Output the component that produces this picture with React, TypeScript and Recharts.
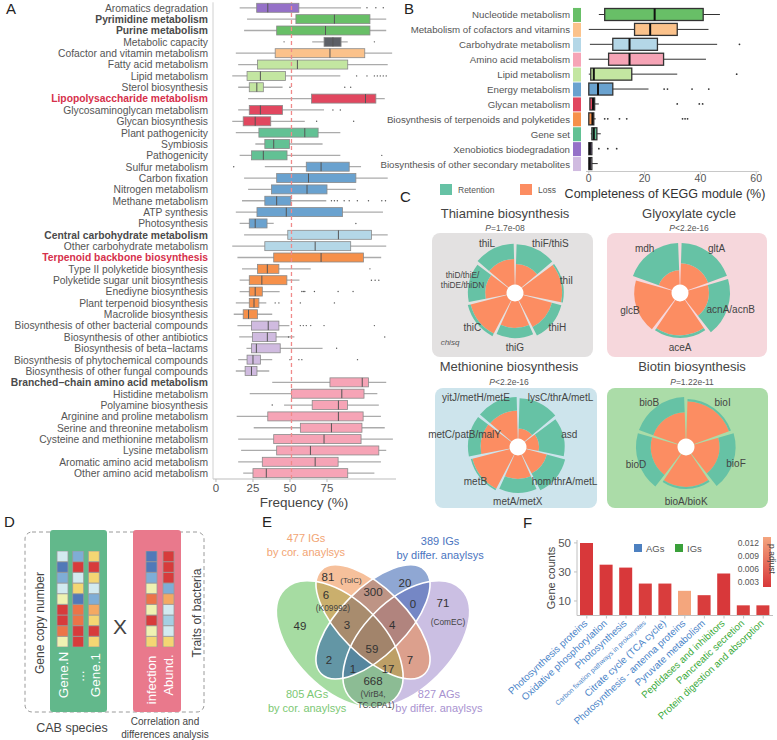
import React from 'react';
import {
  ComposedChart, BarChart, Bar, XAxis, YAxis, ReferenceLine, Cell,
  RadialBarChart, RadialBar, PolarAngleAxis, PolarRadiusAxis,
  PieChart, Pie, ScatterChart, Scatter, LabelList,
} from 'recharts';

const FONT = '"Liberation Sans", Arial, Helvetica, sans-serif';
const TXT = '#4d4d4d';

// ================= Panel A data =================
const aCategories = [
  'Aromatics degradation', 'Pyrimidine metabolism', 'Purine metabolism', 'Metabolic capacity',
  'Cofactor and vitamin metabolism', 'Fatty acid metabolism', 'Lipid metabolism', 'Sterol biosynthesis',
  'Lipopolysaccharide metabolism', 'Glycosaminoglycan metabolism', 'Glycan biosynthesis',
  'Plant pathogenicity', 'Symbiosis', 'Pathogenicity', 'Sulfur metabolism', 'Carbon fixation',
  'Nitrogen metabolism', 'Methane metabolism', 'ATP synthesis', 'Photosynthesis',
  'Central carbohydrate metabolism', 'Other carbohydrate metabolism', 'Terpenoid backbone biosynthesis',
  'Type II polyketide biosynthesis', 'Polyketide sugar unit biosynthesis', 'Enediyne biosynthesis',
  'Plant terpenoid biosynthesis', 'Macrolide biosynthesis', 'Biosynthesis of other bacterial compounds',
  'Biosynthesis of other antibiotics', 'Biosynthesis of beta\u2212lactams',
  'Biosynthesis of phytochemical compounds', 'Biosynthesis of other fungal compounds',
  'Branched\u2212chain amino acid metabolism', 'Histidine metabolism', 'Polyamine biosynthesis',
  'Arginine and proline metabolism', 'Serine and threonine metabolism',
  'Cysteine and methionine metabolism', 'Lysine metabolism', 'Aromatic amino acid metabolism',
  'Other amino acid metabolism',
];
const aGroup = [
  'Xenobiotics', 'Nucleotide', 'Nucleotide', 'Capacity', 'Cofactors', 'Lipid', 'Lipid', 'Lipid',
  'Glycan', 'Glycan', 'Glycan', 'GeneSet', 'GeneSet', 'GeneSet',
  'Energy', 'Energy', 'Energy', 'Energy', 'Energy', 'Energy', 'Carbohydrate', 'Carbohydrate',
  'Terpenoid', 'Terpenoid', 'Terpenoid', 'Terpenoid', 'Terpenoid', 'Terpenoid',
  'Secondary', 'Secondary', 'Secondary', 'Secondary', 'Secondary',
  'AminoAcid', 'AminoAcid', 'AminoAcid', 'AminoAcid', 'AminoAcid', 'AminoAcid', 'AminoAcid', 'AminoAcid', 'AminoAcid',
];
const aBold = ['Pyrimidine metabolism', 'Purine metabolism', 'Central carbohydrate metabolism', 'Branched\u2212chain amino acid metabolism'];
const aRed = ['Lipopolysaccharide metabolism', 'Terpenoid backbone biosynthesis'];
const aLow = [16, 21, 19, 65, 13.4, 15, 11, 15, 21.7, 15, 11, 13.4, 26.6, 16, 33, 19, 21.7, 17.6, 13.4, 16, 19, 11, 14.5, 17.6, 16, 16, 13.4, 12, 14.5, 15.7, 20.6, 15, 13.4, 38, 22.8, 46, 14, 25.5, 15, 17, 15, 18.4];
const aQ1 = [27.5, 54, 41, 73, 40, 28, 21, 22.5, 64.5, 22.5, 18.4, 29, 33, 24, 61, 41, 37.5, 33, 27.7, 22.5, 48.5, 33, 39, 28, 22.5, 22.5, 22.5, 18.4, 24, 24.6, 24, 21, 19.7, 77, 51, 65, 35, 57, 39, 41, 31.3, 25];
const aMedian = [35, 80, 74, 79, 77, 55, 30, 27.6, 101, 30, 26.5, 60, 39, 32, 71, 62.5, 61.5, 41, 47.5, 26.5, 82.7, 67, 71, 34.7, 31, 26.5, 25.7, 22, 35.3, 34.7, 27.3, 25, 24, 98.8, 85, 82.7, 82.7, 78, 73, 63.8, 67, 34];
const aQ3 = [56, 104, 104, 84.5, 100.5, 89, 47, 32, 108, 45, 37, 69, 49.6, 48, 90, 94.5, 75, 50.6, 85.5, 34.5, 105, 91, 99.6, 42.5, 47.9, 31.3, 29, 28, 42.5, 40.6, 43.4, 30, 27.7, 103, 100, 88.9, 99.4, 98.6, 98, 110, 82.5, 89];
const aHigh = [98, 115, 115, 89, 119, 116, 84, 45, 114, 73, 60, 84, 72, 84, 98, 116, 94.5, 74.5, 112.8, 39, 116, 115, 111.6, 64, 56.4, 43, 34, 38, 49.6, 53, 72, 38, 36, 115, 109, 110, 111.4, 114, 119.5, 115, 111.4, 107];
const aOutliers = [
  [102, 108, 113], [], [], [46, 107], [], [], [95, 102, 107, 109, 111, 113, 115], [50, 87, 91],
  [], [79, 84], [68, 93], [], [], [112], [12], [], [], [78, 80, 82, 86.6, 90, 95.5, 103, 112, 114.5],
  [], [94.5], [], [], [], [104], [105, 107.5, 110], [58, 59, 60, 66.5, 82.5, 92.6], [40, 42.5, 51, 57, 80],
  [], [57, 59, 61, 64, 73, 107], [49, 114], [81.5], [50, 56, 58, 95.6], [], [], [], [38], [], [], [], [], [], [],
];
const aThreshold = 51;
const aTicks = [0, 25, 50, 75];

// ================= Panel B data =================
const bCategories = [
  'Nucleotide metabolism', 'Metabolism of cofactors and vitamins', 'Carbohydrate metabolism',
  'Amino acid metabolism', 'Lipid metabolism', 'Energy metabolism', 'Glycan metabolism',
  'Biosynthesis of terpenoids and polyketides', 'Gene set', 'Xenobiotics biodegradation',
  'Biosynthesis of other secondary metabolites',
];
const bGroup = ['Nucleotide', 'Cofactors', 'Carbohydrate', 'AminoAcid', 'Lipid', 'Energy', 'Glycan', 'Terpenoid', 'GeneSet', 'Xenobiotics', 'Secondary'];
const bLow = [3.6, 0, 0.4, 0, 0, 0, 0.4, 0, 0.7, 0, 0];
const bQ1 = [5.7, 16.4, 8.6, 7.1, 0.7, 0, 0.4, 0, 1.1, 0, 0];
const bMedian = [23.6, 22, 14.6, 14.6, 1.8, 3.3, 1.5, 1.3, 1.8, 0.4, 0.4];
const bQ3 = [41, 31.7, 24.6, 26.8, 15.4, 8.6, 2.1, 1.8, 2.9, 1.1, 1.1];
const bHigh = [47, 42.9, 46, 42, 31.7, 21.4, 3.6, 2.5, 4.3, 1.2, 3.2];
const bOutliers = [[], [], [54], [], [53], [27, 28.2, 37, 43], [31.7, 39.6, 40.8], [5.7, 6.8, 11, 13.6, 33.6, 34.5, 35.4], [], [3.6, 6.8, 10], []];
const bTicks = [0, 20, 40, 60];

// ================= Panel C data =================
const cThiGenes = ['thiF/thiS', 'thiI', 'thiH', 'thiG', 'thiC', 'thiD/thiE/thiDE/thiDN', 'thiL'];
const cThiLoss = [50, 93, 72, 64, 90, 52, 62];
const cThiRet = [47, 4, 23, 24, 7, 41, 36];
const cGlyGenes = ['gltA', 'acnA/acnB', 'aceA', 'glcB', 'mdh'];
const cGlyLoss = [52, 50, 82, 90, 35];
const cGlyRet = [48, 50, 6, 0, 65];
const cMetGenes = ['lysC/thrA/metL', 'asd', 'hom/thrA/metL', 'metA/metX', 'metB', 'metC/patB/malY', 'yitJ/metH/metE'];
const cMetLoss = [25, 31, 52, 57, 93, 70, 68];
const cMetRet = [72, 61, 45, 33, 4, 30, 32];
const cBioGenes = ['bioI', 'bioF', 'bioA/bioK', 'bioD', 'bioB'];
const cBioLoss = [90, 61, 76, 65, 64];
const cBioRet = [5, 38, 5, 35, 36];
const cTitles = ['Thiamine biosynthesis', 'Glyoxylate cycle', 'Methionine biosynthesis', 'Biotin biosynthesis'];
const cPvalues = ['=1.7e-08', '<2.2e-16', '<2.2e-16', '=1.22e-11'];

// ================= Panel D data =================
const dGeneCols = ['Gene.N', '...', 'Gene.1'];
const dGeneLevels = [[5, 8, 7, 5, 4, 0, 0, 1, 4], [7, 0, 5, 3, 8, 1, 1, 0, 0], [3, 0, 3, 5, 7, 2, 3, 0, 3]];
const dTraitCols = ['infection', 'Abund.'];
const dTraitLevels = [[8, 8, 7, 4, 1, 4, 0, 4, 3], [0, 0, 0, 7, 2, 5, 6, 5, 3]];

// ================= Panel E data =================
const vennSets = ['805 AGs', '477 IGs', '389 IGs', '827 AGs'];
const vennSetSub = ['by cor. anaylsys', 'by cor. anaylsys', 'by differ. anaylsys', 'by differ. anaylsys'];
const vennCounts = [49, 81, 20, 71, 6, 300, 0, 2, 3, 4, 7, 59, 1, 17, 668];
const vennNotes = ['', '(TolC)', '', '(ComEC)', '(K09992)', '', '', '', '', '', '', '', '', '', '(VirB4,|TC.CPA1)'];

// ================= Panel F data =================
const fPathways = [
  'Photosynthesis proteins', 'Oxidative phosphorylation', 'Photosynthesis',
  'Carbon fixation pathways in prokaryotes', 'Citrate cycle (TCA cycle)',
  'Photosynthesis - antenna proteins', 'Pyruvate metabolism', 'Peptidases and inhibitors',
  'Pancreatic secretion', 'Protein digestion and absorption',
];
const fCounts = [50, 35, 33, 22, 22, 17, 14, 29, 7, 7];
const fPAdjust = [0.001, 0.001, 0.001, 0.0015, 0.0015, 0.012, 0.0015, 0.001, 0.0015, 0.0015];
const fSource = ['AGs', 'AGs', 'AGs', 'AGs', 'AGs', 'AGs', 'AGs', 'IGs', 'IGs', 'IGs'];
const fTicks = [10, 30, 50];
const fLegendTicks = ['0.012', '0.009', '0.006', '0.003'];

// ================= styles =================
const GROUP_COLORS: any = {
  Nucleotide: '#68bf67', Cofactors: '#fbc28b', Carbohydrate: '#b4d7e7', AminoAcid: '#f6a4b6',
  Lipid: '#c3e6a1', Energy: '#6aa2cf', Glycan: '#e1475f', Terpenoid: '#f6904a', GeneSet: '#62c194',
  Xenobiotics: '#9571c8', Secondary: '#d0bbe0', Capacity: '#5d6067',
};
const HEAT = ['#d73b3b', '#ec7448', '#f4a962', '#f4d673', '#eff2b2', '#d3eaf0', '#a5cfe3', '#7fadd6', '#5179b8'];
const LOSS = '#fc8d62';
const RET = '#66c2a5';

// ================= helpers =================
function T(props: any) {
  const { x, y, s = 11, c = TXT, a = 'middle', w = 400, it = false, rot = 0, children } = props;
  return (
    <text x={x} y={y} fontSize={s} fill={c} textAnchor={a} fontWeight={w} fontStyle={it ? 'italic' : 'normal'}
      dominantBaseline="central" fontFamily={FONT} transform={rot ? `rotate(${rot} ${x} ${y})` : undefined}>
      {children}
    </text>
  );
}

const aData = aCategories.map((name, i) => ({
  name, range: [aLow[i], aHigh[i]], lo: aLow[i], hi: aHigh[i], q1: aQ1[i], med: aMedian[i], q3: aQ3[i],
  out: aOutliers[i], color: GROUP_COLORS[aGroup[i]],
}));
const bData = bCategories.map((name, i) => ({
  name, range: [bLow[i], bHigh[i]], lo: bLow[i], hi: bHigh[i], q1: bQ1[i], med: bMedian[i], q3: bQ3[i],
  out: bOutliers[i], color: GROUP_COLORS[bGroup[i]],
}));

function makeBox(st: any) {
  return (props: any) => {
    const { x, y, width, height, payload } = props;
    if (!payload || !isFinite(x) || !isFinite(width)) return null;
    const { lo, hi, q1, med, q3, out, color } = payload;
    const px = (v: number) => x + ((v - lo) / (hi - lo)) * width;
    const cy = y + height / 2;
    return (
      <g>
        <line x1={x} x2={x + width} y1={cy} y2={cy} stroke={st.whisk} strokeWidth={st.whiskW} />
        <rect x={px(q1)} y={y} width={Math.max(px(q3) - px(q1), 0.5)} height={height} fill={color} stroke={st.box} strokeWidth={st.boxW} />
        <line x1={px(med)} x2={px(med)} y1={y} y2={y + height} stroke={st.med} strokeWidth={st.medW} />
        {out.map((o: number, i: number) => (
          <circle key={i} cx={px(o)} cy={cy} r={st.outR} fill={st.out} />
        ))}
      </g>
    );
  };
}
const ABox = makeBox({ whisk: '#ababab', whiskW: 1.3, box: '#8a8a8a', boxW: 0.8, med: '#555', medW: 1, outR: 0.7, out: '#555' });
const BBox = makeBox({ whisk: '#333', whiskW: 1, box: '#333', boxW: 1.3, med: '#111', medW: 2, outR: 0.9, out: '#333' });

function ATick(props: any) {
  const { x, y, payload } = props;
  const name = payload.value;
  const bold = aBold.includes(name);
  const red = aRed.includes(name);
  const strong = bold || red;
  return (
    <text x={x} y={y} dy={3.7} textAnchor="end" fontSize={10.3} fontFamily={FONT}
      fontWeight={strong ? 700 : 400} fill={red ? '#d6304b' : bold ? '#4a4a4a' : '#555'}>
      {name}
    </text>
  );
}

function BTick(props: any) {
  const { x, y, payload } = props;
  const i = bCategories.indexOf(payload.value);
  return (
    <g>
      <rect x={x + 2} y={y - 7} width={8} height={14} fill={GROUP_COLORS[bGroup[i]]} />
      <text x={x - 1} y={y} dy={3.5} textAnchor="end" fontSize={9.7} fontFamily={FONT} fill="#555">{payload.value}</text>
    </g>
  );
}

const R_LAB = 52;
function GeneLabel(props: any) {
  const vb = props.viewBox || {};
  if (vb.startAngle == null || vb.cx == null) return null;
  const { cx, cy, startAngle, endAngle } = vb;
  const mid = (startAngle + endAngle) / 2;
  const rad = (-mid * Math.PI) / 180;
  const px = cx + R_LAB * Math.cos(rad);
  const py = cy + R_LAB * Math.sin(rad);
  const theta = ((90 - mid) * Math.PI) / 180;
  const name = String(props.value);
  const lines = name.includes('thiDE') ? ['thiD/thiE/', 'thiDE/thiDN'] : [name];
  const fs = lines.length > 1 ? 8.3 : 10;
  const w = Math.max(...lines.map((l) => l.length)) * fs * 0.5;
  const lh = fs * 1.2;
  const h = lines.length * lh;
  const c = Math.cos(theta);
  const k = c > 0 ? 0.8 : 0.3;
  const xc = px + k * Math.sin(theta) * w * c * c;
  const yc = py - 0.25 * c * h;
  return (
    <g>
      {lines.map((l, j) => (
        <text key={j} x={xc} y={yc + (j - (lines.length - 1) / 2) * lh} textAnchor="middle" dominantBaseline="central"
          fontSize={fs} fontFamily={FONT} fill="#444">{l}</text>
      ))}
    </g>
  );
}

function Rose(props: any) {
  const { genes, loss, ret, cx, cy } = props;
  const data = genes.map((g: string, i: number) => ({ gene: g, loss: loss[i], ret: ret[i] }));
  const W = 240, H = 200;
  const start = 90 - 360 / genes.length;
  return (
    <>
      <div style={{ position: 'absolute', left: cx - W / 2, top: cy - H / 2 }}>
        <RadialBarChart width={W} height={H} data={data} layout="centric" cx={W / 2} cy={H / 2}
          innerRadius={8} outerRadius={50} startAngle={start} endAngle={start - 360} barCategoryGap="3%"
          margin={{ top: 0, right: 0, bottom: 0, left: 0 }}>
          <PolarAngleAxis type="category" dataKey="gene" tick={false} axisLine={false} tickLine={false} />
          <PolarRadiusAxis type="number" domain={[0, 100]} tick={false} axisLine={false} tickLine={false} />
          <RadialBar dataKey="loss" stackId="s" fill={LOSS} stroke="none" isAnimationActive={false} />
          <RadialBar dataKey="ret" stackId="s" fill={RET} stroke="none" isAnimationActive={false}>
            <LabelList dataKey="gene" content={GeneLabel} />
          </RadialBar>
        </RadialBarChart>
      </div>
      <div style={{ position: 'absolute', left: cx - 15, top: cy - 15 }}>
        <PieChart width={30} height={30} margin={{ top: 0, right: 0, bottom: 0, left: 0 }}>
          <Pie data={[{ v: 1 }]} dataKey="v" cx={15} cy={15} innerRadius={0} outerRadius={8.5} fill="#fff" stroke="none" isAnimationActive={false} />
        </PieChart>
      </div>
    </>
  );
}

function Heat(props: any) {
  const { cols, levels, left, width } = props;
  const rows = levels[0].length;
  const data = cols.map((c: string) => {
    const o: any = { col: c };
    levels[0].forEach((_: number, r: number) => { o['r' + r] = 1; });
    return o;
  });
  const order = levels[0].map((_: number, k: number) => rows - 1 - k);
  return (
    <div style={{ position: 'absolute', left, top: 551 }}>
      <BarChart width={width} height={96} data={data} margin={{ top: 0, right: 0, bottom: 0, left: 0 }} barCategoryGap={0}>
        <XAxis dataKey="col" hide />
        <YAxis type="number" domain={[0, rows]} hide />
        {order.map((r: number) => (
          <Bar key={r} dataKey={'r' + r} stackId="h" barSize={11} stroke="#9b9b9b" strokeWidth={0.8} isAnimationActive={false}>
            {cols.map((c: string, ci: number) => <Cell key={ci} fill={HEAT[levels[ci][r]]} />)}
          </Bar>
        ))}
      </BarChart>
    </div>
  );
}

// Venn layout (VennDiagram-style unit coordinates)
const VENN_K = 222; // px per unit (chart width / x-domain span)
const vennEllipses = [
  { x: 0.65, y: 0.47, a: 0.35, b: 0.2, rot: -45, fill: '#977fc7' },
  { x: 0.35, y: 0.47, a: 0.35, b: 0.2, rot: 45, fill: '#4db945' },
  { x: 0.5, y: 0.57, a: 0.33, b: 0.15, rot: -45, fill: '#1f50a8' },
  { x: 0.5, y: 0.57, a: 0.33, b: 0.15, rot: 45, fill: '#ed8137' },
];
const vennRegionPos = [
  [0.171, 0.551], [0.297, 0.772], [0.644, 0.745], [0.815, 0.655], [0.288, 0.691], [0.5, 0.704],
  [0.68, 0.65], [0.302, 0.398], [0.383, 0.556], [0.586, 0.556], [0.667, 0.398], [0.495, 0.448],
  [0.41, 0.358], [0.568, 0.358], [0.5, 0.303],
];
const vennSetPos = [[0.203, 0.213], [0.198, 0.916], [0.802, 0.903], [0.797, 0.213]];
const vennSetColors = ['#7cc874', '#f2a574', '#4a74c0', '#a892d0'];

function EllipseShape(props: any) {
  const { cx, cy, payload, outline } = props;
  return (
    <ellipse cx={cx} cy={cy} rx={payload.a * VENN_K} ry={payload.b * VENN_K}
      transform={`rotate(${payload.rot} ${cx} ${cy})`}
      fill={outline ? 'none' : payload.fill} fillOpacity={0.5}
      stroke={outline ? '#fff' : 'none'} strokeWidth={1.6} />
  );
}
function RegionLabel(props: any) {
  const { cx, cy, payload } = props;
  const note = payload.note;
  const noteLines = note ? note.split('|') : [];
  const inline = note === '(TolC)';
  const below = note && !inline;
  const dx = note === '(K09992)' ? 7 : note === '(ComEC)' ? 5 : 0;
  return (
    <g fontFamily={FONT}>
      <text x={cx} y={cy} textAnchor="middle" dominantBaseline="central" fontSize={11.5} fill="#333">{payload.count}</text>
      {inline && <text x={cx + 23} y={cy + 3} textAnchor="middle" dominantBaseline="central" fontSize={8} fill="#444">{note}</text>}
      {below && noteLines.map((l: string, k: number) => (
        <text key={k} x={cx + dx + (k === 1 ? 3 : 0)} y={cy + 13 + k * 11 + (payload.count === 71 ? 6 : 0)} textAnchor="middle"
          dominantBaseline="central" fontSize={8.3} fill="#444">{l}</text>
      ))}
    </g>
  );
}
function SetLabel(props: any) {
  const { cx, cy, payload } = props;
  return (
    <g fontFamily={FONT}>
      <text x={cx} y={cy - 7} textAnchor="middle" dominantBaseline="central" fontSize={11} fill={payload.color}>{payload.name}</text>
      <text x={cx} y={cy + 7} textAnchor="middle" dominantBaseline="central" fontSize={11} fill={payload.color}>{payload.sub}</text>
    </g>
  );
}

const ellipseData = vennEllipses.map((e) => ({ ...e }));
const regionData = vennCounts.map((c, i) => ({ x: vennRegionPos[i][0], y: vennRegionPos[i][1], count: c, note: vennNotes[i] }));
const setData = vennSets.map((s, i) => ({ x: vennSetPos[i][0], y: vennSetPos[i][1], name: s, sub: vennSetSub[i], color: vennSetColors[i] }));

// F
function lerpColor(c1: number[], c2: number[], t: number) {
  const c = c1.map((v, i) => Math.round(v + (c2[i] - v) * t));
  return `rgb(${c[0]},${c[1]},${c[2]})`;
}
const pColor = (p: number) => lerpColor([216, 56, 58], [244, 166, 125], Math.min(1, Math.max(0, (p - 0.001) / 0.011)));
const fData = fPathways.map((name, i) => ({ name, count: fCounts[i], p: fPAdjust[i] }));

function FTick(props: any) {
  const { x, y, payload } = props;
  const name = payload.value;
  const i = fPathways.indexOf(name);
  const small = name.length > 35;
  const tx = x - 1;
  const ty = y + 1;
  return (
    <text x={tx} y={ty} textAnchor="end" dominantBaseline="central" transform={`rotate(-43 ${tx} ${ty})`}
      fontSize={small ? 6.8 : 9.8} fontFamily={FONT} fill={fSource[i] === 'AGs' ? '#4a84c8' : '#3aaa3a'}>
      {name}
    </text>
  );
}

export default function App() {
  return (
    <div style={{ position: 'absolute', left: 0, top: 0, width: 777, height: 740, background: '#fff', overflow: 'hidden', fontFamily: FONT }}>
      {/* background decorations */}
      <svg width={777} height={740} style={{ position: 'absolute', left: 0, top: 0 }}>
        <rect x={432} y={233} width={161} height={124} rx={8} fill="#e3e1e1" />
        <rect x={607} y={233} width={160} height={124} rx={8} fill="#f6d7dc" />
        <rect x={435} y={388} width={162} height={120} rx={8} fill="#cde4ec" />
        <rect x={607} y={388} width={161} height={120} rx={8} fill="#abdca8" />
        <rect x={25} y={532} width={179} height={180} rx={7} fill="none" stroke="#9a9a9a" strokeDasharray="4 3" strokeWidth={1} />
        <rect x={50} y={530} width={57} height={182} rx={3} fill="#62b88b" />
        <rect x={133} y={530} width={48} height={182} rx={3} fill="#e9798c" />
        <defs>
          <linearGradient id="pgrad" x1="0" y1="0" x2="0" y2="1">
            <stop offset="0%" stopColor="#f4a57e" />
            <stop offset="100%" stopColor="#d8383a" />
          </linearGradient>
        </defs>
        <rect x={763} y={537} width={8} height={50} fill="url(#pgrad)" />
      </svg>

      {/* Panel A */}
      <div style={{ position: 'absolute', left: 0, top: 0 }}>
        <ComposedChart layout="vertical" width={400} height={510} data={aData}
          margin={{ top: 2.3, right: 4, bottom: 0, left: 0 }}>
          <XAxis type="number" domain={[-2, 121.6]} ticks={aTicks} allowDataOverflow height={31} tickSize={3} tickMargin={2}
            stroke="#bdbdbd" tick={{ fill: '#555', fontSize: 11.5, fontFamily: FONT }} />
          <YAxis type="category" dataKey="name" width={213} interval={0} tickLine={false} tickSize={3} tickMargin={2}
            stroke="#d0d0d0" tick={<ATick />} />
          <Bar dataKey="range" barSize={9} shape={ABox} isAnimationActive={false} />
          <ReferenceLine x={aThreshold} stroke="#f08a8a" strokeDasharray="4 3" strokeWidth={1.3} />
        </ComposedChart>
      </div>

      {/* Panel B */}
      <div style={{ position: 'absolute', left: 340, top: 0 }}>
        <ComposedChart layout="vertical" width={437} height={200} data={bData}
          margin={{ top: 7.5, right: 18, bottom: 0, left: 0 }}>
          <XAxis type="number" domain={[-1, 61]} ticks={bTicks} allowDataOverflow height={28.5} tickSize={3} tickMargin={0}
            stroke="#c8c8c8" tick={{ fill: '#555', fontSize: 10.5, fontFamily: FONT }} />
          <YAxis type="category" dataKey="name" width={246} interval={0} tickLine={false} axisLine={false} tickSize={13} tickMargin={2}
            tick={<BTick />} />
          <Bar dataKey="range" barSize={12} shape={BBox} isAnimationActive={false} />
        </ComposedChart>
      </div>

      {/* Panel C */}
      <Rose genes={cThiGenes} loss={cThiLoss} ret={cThiRet} cx={515} cy={293} />
      <Rose genes={cGlyGenes} loss={cGlyLoss} ret={cGlyRet} cx={680} cy={293} />
      <Rose genes={cMetGenes} loss={cMetLoss} ret={cMetRet} cx={518} cy={447} />
      <Rose genes={cBioGenes} loss={cBioLoss} ret={cBioRet} cx={686} cy={447} />

      {/* Panel D */}
      <Heat cols={dGeneCols} levels={dGeneLevels} left={55} width={47} />
      <Heat cols={dTraitCols} levels={dTraitLevels} left={143} width={34} />

      {/* Panel E */}
      <div style={{ position: 'absolute', left: 262, top: 530 }}>
        <ScatterChart width={222} height={210} margin={{ top: 0, right: 0, bottom: 0, left: 0 }}>
          <XAxis type="number" dataKey="x" domain={[0, 1]} hide />
          <YAxis type="number" dataKey="y" domain={[0.038, 0.984]} hide />
          <Scatter data={ellipseData} shape={(p: any) => <EllipseShape {...p} />} isAnimationActive={false} />
          <Scatter data={ellipseData} shape={(p: any) => <EllipseShape {...p} outline />} isAnimationActive={false} />
          <Scatter data={regionData} shape={RegionLabel} isAnimationActive={false} />
          <Scatter data={setData} shape={SetLabel} isAnimationActive={false} />
        </ScatterChart>
      </div>

      {/* Panel F */}
      <div style={{ position: 'absolute', left: 470, top: 530 }}>
        <BarChart width={307} height={210} data={fData} margin={{ top: 10, right: 4, bottom: 0, left: 0 }}>
          <XAxis dataKey="name" interval={0} height={124.5} tickSize={3} stroke="#c0c0c0" tick={<FTick />} />
          <YAxis type="number" domain={[0, 52]} ticks={fTicks} width={107} tickSize={3} tickMargin={3} stroke="#c0c0c0"
            tick={{ fill: '#555', fontSize: 11.5, fontFamily: FONT }} />
          <Bar dataKey="count" barSize={13} isAnimationActive={false}>
            {fData.map((d, i) => <Cell key={i} fill={pColor(d.p)} />)}
          </Bar>
        </BarChart>
      </div>

      {/* text overlay */}
      <svg width={777} height={740} style={{ position: 'absolute', left: 0, top: 0, pointerEvents: 'none' }}>
        <T x={6} y={8} s={15} c="#222" a="start">A</T>
        <T x={404} y={8} s={15} c="#222" a="start">B</T>
        <T x={400} y={196} s={15} c="#222" a="start">C</T>
        <T x={4} y={521} s={15} c="#222" a="start">D</T>
        <T x={262} y={521} s={15} c="#222" a="start">E</T>
        <T x={523} y={522} s={15} c="#222" a="start">F</T>

        <T x={304} y={502} s={13.5} c="#444">Frequency (%)</T>
        <T x={665} y={194} s={12.5} c="#333">Completeness of KEGG module (%)</T>

        <rect x={440} y={184} width={12} height={11} fill={RET} />
        <T x={458} y={190} s={8.5} c="#555" a="start">Retention</T>
        <rect x={520} y={184} width={12} height={11} fill={LOSS} />
        <T x={538} y={190} s={8.5} c="#555" a="start">Loss</T>

        <T x={505} y={213} s={13} c="#444">{cTitles[0]}</T>
        <T x={689} y={213} s={13} c="#444">{cTitles[1]}</T>
        <T x={509} y={366} s={13} c="#444">{cTitles[2]}</T>
        <T x={692} y={366} s={13} c="#444">{cTitles[3]}</T>
        {[[505, 228], [689, 228], [509, 382], [692, 382]].map(([x, y], i) => (
          <text key={i} x={x} y={y} textAnchor="middle" dominantBaseline="central" fontSize={8.5} fill="#555" fontFamily={FONT}>
            <tspan fontStyle="italic">P</tspan>{cPvalues[i]}
          </text>
        ))}
        <T x={450} y={342} s={8} c="#555" it>chisq</T>

        <T x={40} y={623} s={12} c="#444" rot={-90}>Gene copy number</T>
        <T x={63} y={675} s={13.5} c="#fff" rot={-90}>Gene.N</T>
        <T x={79} y={676} s={13.5} c="#fff" rot={-90}>...</T>
        <T x={95} y={675} s={13.5} c="#fff" rot={-90}>Gene.1</T>
        <T x={120} y={626} s={21} c="#444">X</T>
        <T x={151} y={680} s={13} c="#fff" rot={-90}>infection</T>
        <T x={168} y={675} s={13} c="#fff" rot={-90}>Abund.</T>
        <T x={197} y={613} s={12} c="#444" rot={-90}>Traits of bacteria</T>
        <T x={72} y={728} s={12.5} c="#444">CAB species</T>
        <T x={165} y={721} s={10} c="#444">Correlation and</T>
        <T x={165} y={734} s={10} c="#444">differences analysis</T>

        <T x={551} y={578} s={11} c="#444" rot={-90}>Gene counts</T>
        <rect x={634} y={544} width={8} height={8} fill="#4d80c0" />
        <T x={646} y={548} s={9.5} c="#555" a="start">AGs</T>
        <rect x={675} y={544} width={8} height={8} fill="#3aa03a" />
        <T x={687} y={548} s={9.5} c="#555" a="start">IGs</T>
        {fLegendTicks.map((t, i) => (
          <T key={t} x={759} y={543 + i * 13} s={8.5} c="#555" a="end">{t}</T>
        ))}
        <T x={772} y={559} s={8.5} c="#444" rot={90}>p.adjust</T>
      </svg>
    </div>
  );
}
